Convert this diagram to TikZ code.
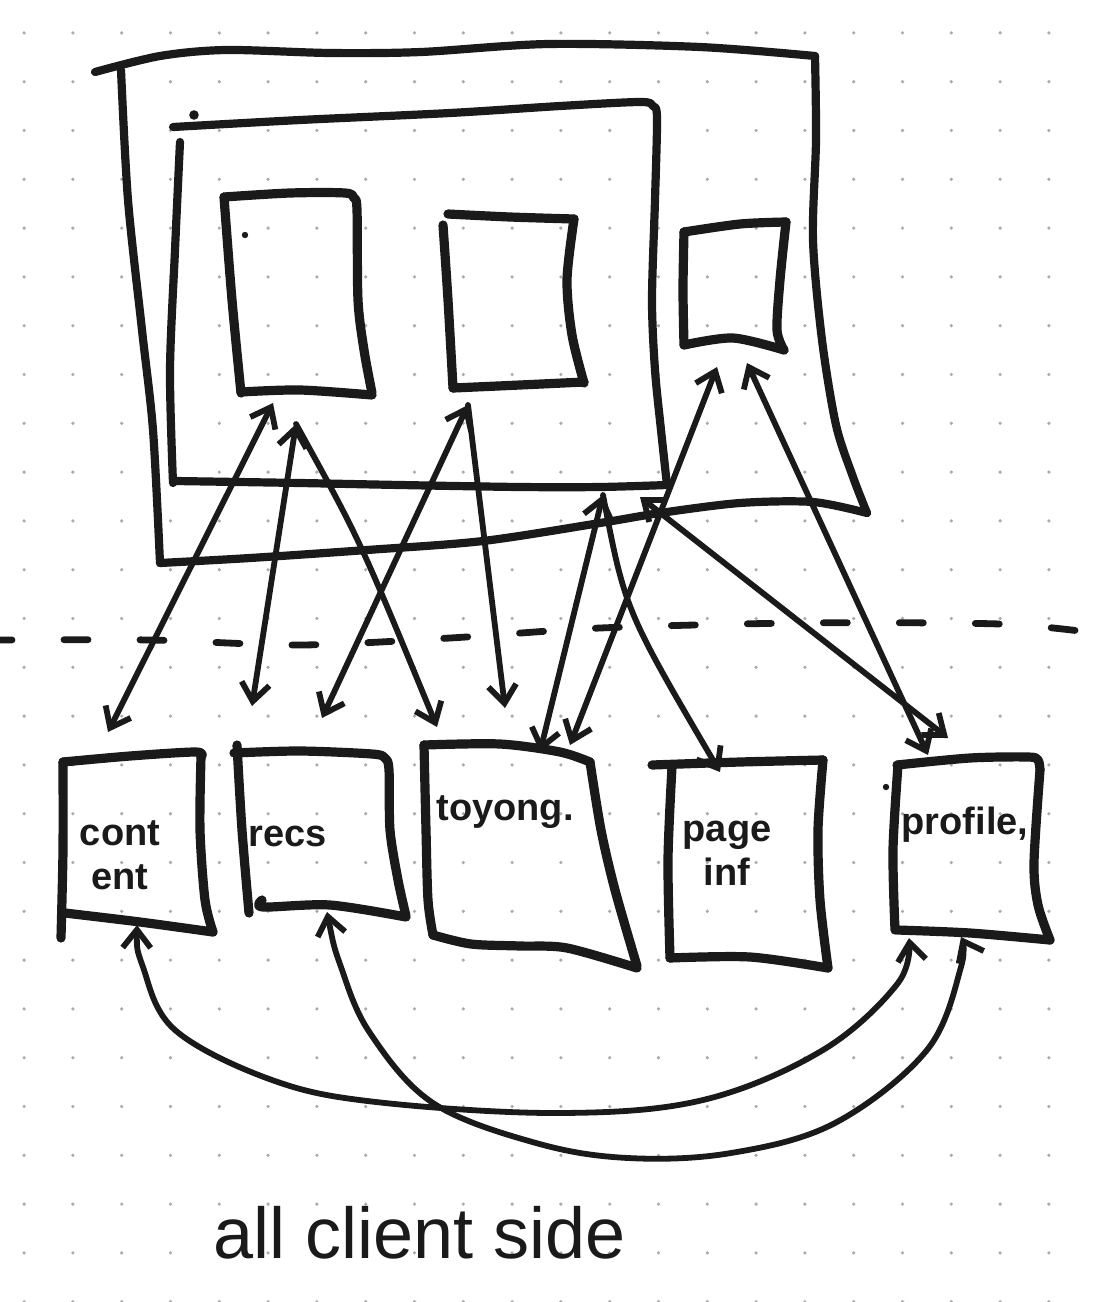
\documentclass[tikz,border=0pt]{standalone}
\usepackage{fontspec}
\setmainfont{Liberation Sans}
\usetikzlibrary{arrows.meta}
\definecolor{ink}{HTML}{1A1A1A}
\definecolor{dotc}{HTML}{ABABAB}
\begin{document}
\begin{tikzpicture}[x=0.5pt,y=-0.5pt,
  hframe/.style={draw=ink,line width=4.1pt,line cap=round,line join=round},
  hbox/.style={draw=ink,line width=4.6pt,line cap=round,line join=round},
  hconn/.style={draw=ink,line width=2.9pt,line cap=round,line join=round},
  hdash/.style={draw=ink,line width=3.4pt,line cap=round,dash pattern=on 12pt off 26pt,dash phase=6pt},
  hlbl/.style={text=ink,font=\bfseries\fontsize{19}{22}\selectfont,align=center,inner sep=0pt},
  hnote/.style={text=ink,font=\fontsize{36}{40}\selectfont,inner sep=0pt},
  hspeck/.style={fill=ink},
  >={Straight Barb[length=9pt,width=14pt]}
]
\fill[white] (0,0) rectangle (1095,1302);
\useasboundingbox (0,0) rectangle (1095,1302);
% dot grid
\foreach \i in {0,...,21}{\foreach \j in {0,...,26}{\fill[dotc] ({24.1+48.8*\i},{32.9+48.8*\j}) circle[radius=0.9pt];}}

% ---- outer frame
\draw[hframe] plot[smooth,tension=.5] coordinates {(95,72) (160,56) (226,50) (330,53) (421,52) (548,44) (700,47) (815,56)};
\draw[hframe] plot[smooth,tension=.5] coordinates {(815,56) (816,140) (813,240) (822,340) (836,425) (853,477) (867,513)};
\draw[hframe] plot[smooth,tension=.5] coordinates {(867,513) (813,502) (740,503) (660,513) (600,523) (483,541) (367,550) (250,558) (160,563)};
\draw[hframe] plot[smooth,tension=.5] coordinates {(121,70) (128,200) (142,330) (153,430) (160,563)};

% ---- inner frame
\draw[hframe] plot[smooth,tension=.5] coordinates {(173,127) (300,120) (450,113) (560,106) (640,102) (653,106) (657,118) (655,200) (652,300) (655,370) (661,430) (667,485)};
\draw[hframe] plot[smooth,tension=.5] coordinates {(667,485) (600,487) (520,487) (400,485) (300,483) (175,481)};
\draw[hframe] plot[smooth,tension=.5] coordinates {(180,142) (175,250) (170,370) (173,483)};
\fill[hspeck] (194,115) circle[radius=2.4pt];

% ---- box 1
\draw[hbox] plot[smooth,tension=.5] coordinates {(224,197) (290,193) (345,193) (354,198) (357,210) (358,300) (364,350) (372,393)};
\draw[hbox] plot[smooth,tension=.5] coordinates {(241,392) (300,390) (372,395)};
\draw[hbox] plot[smooth,tension=.5] coordinates {(224,197) (232,300) (241,393)};
\fill[hspeck] (245,235) circle[radius=1.6pt];

% ---- box 2
\draw[hbox] plot[smooth,tension=.5] coordinates {(448,214) (510,217) (574,219)};
\draw[hbox] plot[smooth,tension=.5] coordinates {(574,219) (567,280) (572,335) (584,383)};
\draw[hbox] plot[smooth,tension=.5] coordinates {(453,388) (520,385) (584,382)};
\draw[hbox] plot[smooth,tension=.5] coordinates {(443,225) (448,300) (453,388)};

% ---- box 3
\draw[hbox] plot[smooth,tension=.5] coordinates {(684,232) (740,224) (786,222)};
\draw[hbox] plot[smooth,tension=.5] coordinates {(786,222) (780,280) (777,330) (784,350)};
\draw[hbox] plot[smooth,tension=.5] coordinates {(684,345) (733,338) (784,350)};
\draw[hbox] plot[smooth,tension=.5] coordinates {(684,232) (683,290) (684,345)};

% ---- separator
\draw[hdash] plot[smooth,tension=.5] coordinates {(0,640) (150,640) (300,645) (450,638) (600,628) (800,623) (1000,624) (1095,633)};

% ---- content
\draw[hbox] plot[smooth,tension=.5] coordinates {(63,762) (130,756) (196,752) (201,757)};
\draw[hbox] plot[smooth,tension=.5] coordinates {(201,757) (200,830) (205,900) (213,932)};
\draw[hbox] plot[smooth,tension=.5] coordinates {(65,913) (140,922) (213,932)};
\draw[hbox] plot[smooth,tension=.5] coordinates {(63,762) (63,850) (61,938)};
\node[hlbl] (tcontent) at (120,855) {cont\\ent};

% ---- recs
\draw[hbox] plot[smooth,tension=.5] coordinates {(237,745) (242,830) (249,913)};
\draw[hbox] plot[smooth,tension=.5] coordinates {(234,753) (300,751) (372,754) (385,758) (389,770) (390,830) (398,880) (406,916)};
\draw[hbox] plot[smooth,tension=.5] coordinates {(262,900) (263,907) (330,905) (406,917)};
\node[hlbl] (trecs) at (288,836) {recs};

% ---- toyong
\draw[hbox] plot[smooth,tension=.5] coordinates {(424,745) (426,830) (428,900) (433,935)};
\draw[hbox] plot[smooth,tension=.5] coordinates {(424,745) (500,744) (560,752) (590,762)};
\draw[hbox] plot[smooth,tension=.5] coordinates {(590,762) (601,830) (615,890) (637,966)};
\draw[hbox] plot[smooth,tension=.5] coordinates {(433,935) (471,944) (520,946) (567,948) (637,968)};
\node[hlbl] (ttoy) at (505,812) {toyong.};

% ---- page inf
\draw[hbox] plot[smooth,tension=.5] coordinates {(652,765) (740,762) (823,760)};
\draw[hbox] plot[smooth,tension=.5] coordinates {(823,760) (818,830) (820,900) (828,968)};
\draw[hbox] plot[smooth,tension=.5] coordinates {(670,958) (750,957) (828,968)};
\draw[hbox] plot[smooth,tension=.5] coordinates {(672,767) (668,860) (670,958)};
\node[hlbl] (tpage) at (727,853) {page\\inf};

% ---- profile
\draw[hbox] plot[smooth,tension=.5] coordinates {(897,765) (970,758) (1028,757) (1038,760) (1040,770)};
\draw[hbox] plot[smooth,tension=.5] coordinates {(1040,770) (1034,863) (1038,905) (1050,940)};
\draw[hbox] plot[smooth,tension=.5] coordinates {(897,930) (970,933) (1050,940)};
\draw[hbox] plot[smooth,tension=.5] coordinates {(898,765) (893,850) (895,930)};
\fill[hspeck] (886,787) circle[radius=1.6pt];
\node[hlbl] (tprof) at (965,825) {profile,};

% ---- connector end points
\coordinate (b1a) at (273,403);
\coordinate (b1b) at (296,424);
\coordinate (b2a) at (468,405);
\coordinate (b3a) at (717,367);
\coordinate (b3b) at (747,363);
\coordinate (ifa) at (603,495);
\coordinate (ofa) at (640,497);
\coordinate (conT) at (108,732);
\coordinate (recT1) at (252,706);
\coordinate (recT2) at (322,718);
\coordinate (toyT1) at (437,727);
\coordinate (toyT2) at (505,708);
\coordinate (toyT3) at (540,752);
\coordinate (toyT4) at (570,745);
\coordinate (pgT) at (720,772);
\coordinate (prT1) at (928,755);
\coordinate (prT2) at (948,738);
\coordinate (conB) at (137,925);
\coordinate (recB) at (327,912);
\coordinate (prB1) at (909,938);
\coordinate (prB2) at (961,937);

% ---- connectors
\draw[hconn,<->] (b1a) -- (conT);
\draw[hconn,<->] (b1b) -- (recT1);
\draw[hconn,->] (b1b) .. controls (360,540) .. (toyT1);
\draw[hconn,<->] (b2a) -- (recT2);
\draw[hconn,->] (b2a) -- (toyT2);
\draw[hconn,<->] (b3a) -- (toyT4);
\draw[hconn,<->] (b3b) -- (prT1);
\draw[hconn,<->] (ifa) -- (toyT3);
\draw[hconn,->] (ifa) .. controls (625,610) .. (pgT);
\draw[hconn,<->] (ofa) -- (prT2);
\draw[hconn,<->] plot[smooth,tension=.6] coordinates {(conB) (143,967) (175,1030) (272,1080) (376,1102) (559,1113) (703,1100) (823,1050) (898,983) (prB1)};
\draw[hconn,<->] plot[smooth,tension=.6] coordinates {(recB) (341,967) (370,1033) (433,1103) (536,1143) (628,1158) (731,1153) (835,1123) (927,1050) (961,967) (prB2)};

% ---- note
\node[hnote] (tall) at (420,1233) {all client side};
\end{tikzpicture}
\end{document}
